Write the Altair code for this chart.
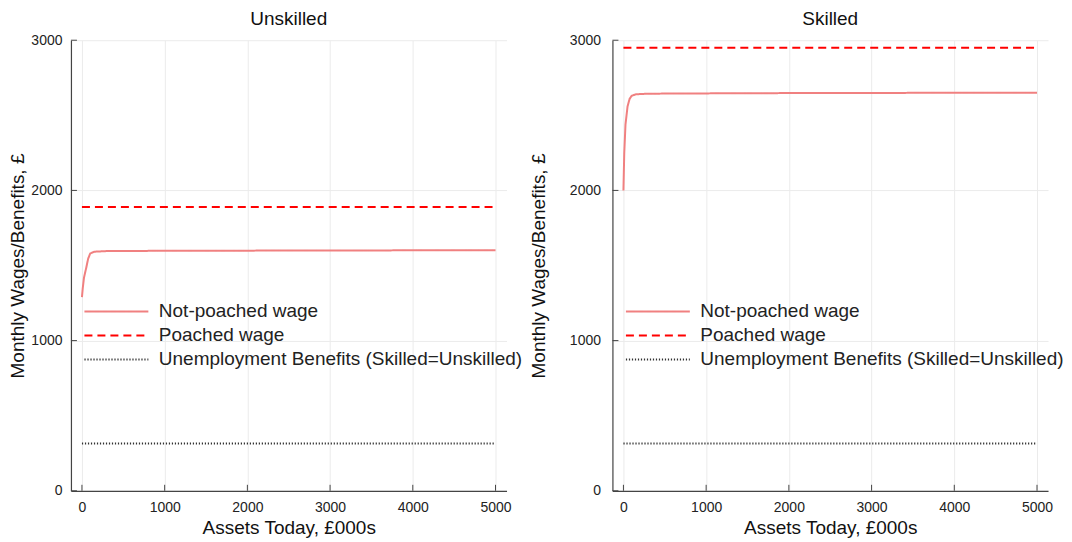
import altair as alt
import pandas as pd

FONT = "Liberation Sans"

series_names = ["Not-poached wage", "Poached wage", "Unemployment Benefits (Skilled=Unskilled)"]

# Unskilled panel
unsk_np_x = [0, 10, 25, 50, 75, 100, 150, 300, 1000, 2000, 3000, 4000, 5000]
unsk_np_y = [1290, 1350, 1420, 1480, 1545, 1580, 1592, 1596, 1598, 1599, 1600, 1601, 1602]
unsk_p_x = [0, 5000]
unsk_p_y = [1890, 1890]

# Skilled panel
sk_np_x = [0, 10, 25, 50, 75, 100, 150, 300, 1000, 2000, 3000, 4000, 5000]
sk_np_y = [2000, 2250, 2440, 2560, 2610, 2630, 2640, 2644, 2646, 2648, 2649, 2650, 2651]
sk_p_x = [0, 5000]
sk_p_y = [2950, 2950]

# Benefits (same for both)
ben_x = [0, 5000]
ben_y = [315, 315]

x_ticks = [0, 1000, 2000, 3000, 4000, 5000]
y_ticks = [0, 1000, 2000, 3000]

W, H = 436, 451


def table(np_x, np_y, p_x, p_y):
    rows = []
    for x, y in zip(np_x, np_y):
        rows.append({"series": series_names[0], "x": x, "y": y})
    for x, y in zip(p_x, p_y):
        rows.append({"series": series_names[1], "x": x, "y": y})
    for x, y in zip(ben_x, ben_y):
        rows.append({"series": series_names[2], "x": x, "y": y})
    return pd.DataFrame(rows)


def legend():
    return alt.Legend(title=None, orient="none", legendX=36, legendY=262,
                      symbolType="M-4,0H4", symbolSize=256, symbolStrokeWidth=2,
                      symbolFillColor="transparent",
                      labelFontSize=19, labelFont=FONT, labelColor="#222",
                      labelOffset=33, rowPadding=4, labelLimit=600, padding=0)


def panel(title, df, ylab_pad, ytitle_pad):
    xs = alt.Scale(domain=[-133, 5133], nice=False, zero=False)
    ys = alt.Scale(domain=[0, 3000], nice=False)
    xaxis = alt.Axis(values=x_ticks, title="Assets Today, £000s", grid=True, format="d",
                     labelPadding=10, titlePadding=4)
    yaxis = alt.Axis(values=y_ticks, title="Monthly Wages/Benefits, £", grid=True, format="d",
                     labelPadding=ylab_pad, titlePadding=ytitle_pad)
    lines = alt.Chart(df).mark_line(strokeWidth=2, clip=True).encode(
        x=alt.X("x:Q", scale=xs, axis=xaxis),
        y=alt.Y("y:Q", scale=ys, axis=yaxis),
        color=alt.Color(
            "series:N",
            scale=alt.Scale(domain=series_names, range=["#f08080", "#ff0000", "#333333"]),
            legend=legend(),
        ),
        strokeDash=alt.StrokeDash(
            "series:N",
            scale=alt.Scale(domain=series_names, range=[[1, 0], [8, 5], [1.2, 1.8]]),
            legend=legend(),
        ),
        strokeWidth=alt.StrokeWidth(
            "series:N",
            scale=alt.Scale(domain=series_names, range=[2, 2, 1.2]),
            legend=None,
        ),
    )
    xt = alt.Chart(pd.DataFrame({"x": x_ticks})).mark_rule(color="#444", strokeWidth=1).encode(
        x=alt.X("x:Q", scale=xs), y=alt.value(H), y2=alt.value(H - 6)
    )
    yt = alt.Chart(pd.DataFrame({"y": y_ticks})).mark_rule(color="#444", strokeWidth=1).encode(
        y=alt.Y("y:Q", scale=ys), x=alt.value(0), x2=alt.value(6)
    )
    return alt.layer(lines, xt, yt).properties(
        width=W, height=H,
        title=alt.TitleParams(title, fontSize=19, fontWeight="normal", font=FONT,
                              anchor="middle", offset=4, color="#111"),
    )


left = panel("Unskilled", table(unsk_np_x, unsk_np_y, unsk_p_x, unsk_p_y), 9, 3)
right = panel("Skilled", table(sk_np_x, sk_np_y, sk_p_x, sk_p_y), 12, 21)

chart = alt.hconcat(left, right, spacing=6).resolve_scale(
    color="independent", strokeDash="independent", strokeWidth="independent"
).resolve_legend(color="independent", strokeDash="independent").properties(
    padding={"left": 0, "top": 2, "right": 0, "bottom": 0}
).configure_view(stroke=None).configure_axis(
    labelFont=FONT, titleFont=FONT, labelFontSize=14, titleFontSize=19,
    labelColor="#222", titleColor="#111", titleFontWeight="normal",
    domainColor="#444", domainWidth=1.2, tickSize=0, gridColor="#ebebeb",
)

chart.save("out.html", embed_options={"renderer": "svg", "actions": False})
